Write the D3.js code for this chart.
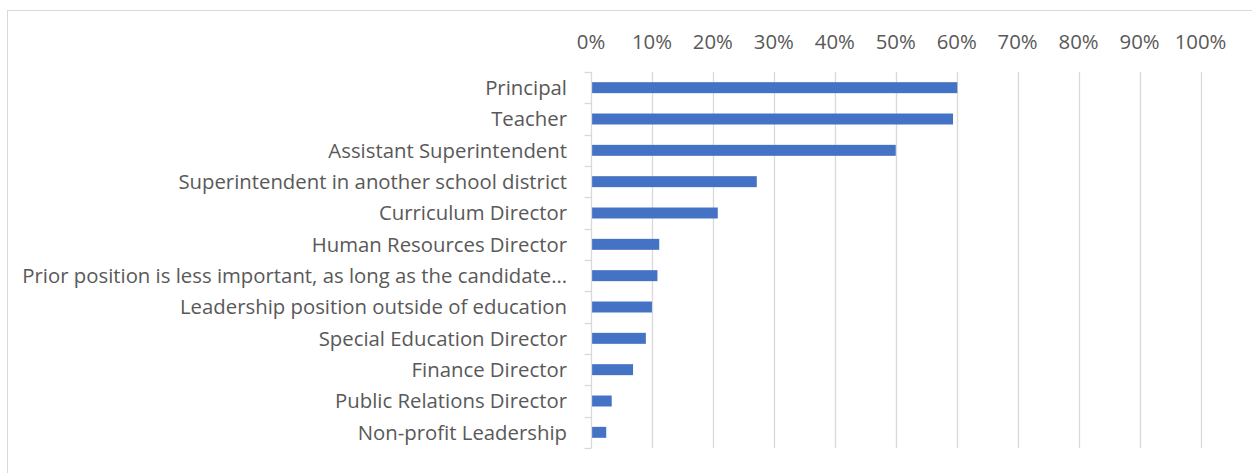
<!DOCTYPE html>
<html>
<head>
<meta charset="utf-8">
<script src="https://cdn.jsdelivr.net/npm/d3@7.9.0/dist/d3.min.js"></script>
<style>
  html, body { margin: 0; padding: 0; background: #fff; }
  svg { display: block; }
</style>
</head>
<body>
<div id="chart"></div>
<script>
// Chart data
const categories = [
  'Principal',
  'Teacher',
  'Assistant Superintendent',
  'Superintendent in another school district',
  'Curriculum Director',
  'Human Resources Director',
  'Prior position is less important, as long as the candidate…',
  'Leadership position outside of education',
  'Special Education Director',
  'Finance Director',
  'Public Relations Director',
  'Non-profit Leadership'
];
const values = [0.601, 0.594, 0.500, 0.272, 0.208, 0.112, 0.109, 0.100, 0.090, 0.069, 0.034, 0.025];
const tickValues = [0, 0.1, 0.2, 0.3, 0.4, 0.5, 0.6, 0.7, 0.8, 0.9, 1.0];

const width = 1252, height = 473;
const margin = { top: 72, right: 52, bottom: 25, left: 591 };
const fontFamily = '"Open Sans", "Noto Sans", sans-serif';

const svg = d3.select('#chart').append('svg')
  .attr('width', width)
  .attr('height', height);

// outer chart border
svg.append('rect')
  .attr('x', 7.5).attr('y', 10.5)
  .attr('width', width + 10).attr('height', height + 10)
  .attr('fill', 'none')
  .attr('stroke', '#d9d9d9')
  .attr('stroke-width', 1);

const x = d3.scaleLinear()
  .domain([0, 1])
  .range([margin.left, width - margin.right + 0.5]);

const y = d3.scaleBand()
  .domain(categories)
  .range([margin.top, height - margin.bottom])
  .paddingInner(0.65)
  .paddingOuter(0.325);

const yBand = d3.scaleBand()
  .domain(categories)
  .range([margin.top, height - margin.bottom]);

// gridlines
svg.append('g')
  .selectAll('line')
  .data(tickValues.slice(1))
  .join('line')
  .attr('x1', d => Math.round(x(d)) + 0.5)
  .attr('x2', d => Math.round(x(d)) + 0.5)
  .attr('y1', margin.top)
  .attr('y2', height - margin.bottom)
  .attr('stroke', '#d9d9d9')
  .attr('stroke-width', 1.3);

// bars
svg.append('g')
  .selectAll('rect')
  .data(values)
  .join('rect')
  .attr('x', x(0))
  .attr('y', (d, i) => y(categories[i]))
  .attr('width', d => x(d) - x(0))
  .attr('height', y.bandwidth())
  .attr('fill', '#4472c4');

// category axis line and ticks
const axisX = margin.left + 0.5;
svg.append('line')
  .attr('x1', axisX).attr('x2', axisX)
  .attr('y1', margin.top).attr('y2', height - margin.bottom)
  .attr('stroke', '#d9d9d9')
  .attr('stroke-width', 1.3);

const boundaries = categories.map(c => yBand(c)).concat([height - margin.bottom]);
svg.append('g')
  .selectAll('line')
  .data(boundaries)
  .join('line')
  .attr('x1', axisX - 7).attr('x2', axisX)
  .attr('y1', d => Math.round(d) + 0.5)
  .attr('y2', d => Math.round(d) + 0.5)
  .attr('stroke', '#d9d9d9')
  .attr('stroke-width', 1.3);

// category labels
const labels = svg.append('g')
  .selectAll('text')
  .data(categories)
  .join('text')
  .attr('x', 567)
  .attr('y', d => yBand(d) + yBand.bandwidth() / 2)
  .attr('dy', '0.36em')
  .attr('text-anchor', 'end')
  .attr('font-family', fontFamily)
  .attr('font-size', 18)
  .attr('fill', '#595959')
  .text(d => d);

// fit the font so the longest label spans the same width as in the source
const longest = d3.max(labels.nodes(), n => n.getComputedTextLength());
const fontSize = 18 * 545 / longest;
labels.attr('font-size', fontSize);

// top tick labels
svg.append('g')
  .selectAll('text')
  .data(tickValues)
  .join('text')
  .attr('x', d => x(d))
  .attr('y', 49)
  .attr('text-anchor', 'middle')
  .attr('font-family', fontFamily)
  .attr('font-size', fontSize)
  .attr('fill', '#595959')
  .text(d3.format('.0%'));
</script>
</body>
</html>
